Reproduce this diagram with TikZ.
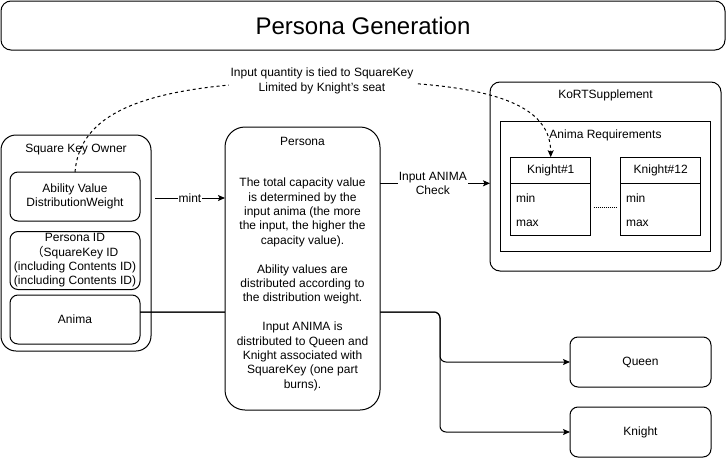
\documentclass[tikz,border=0pt]{standalone}
\usepackage{fontspec}
\setmainfont{Liberation Sans}
\newfontfamily\cjk{Noto Sans CJK SC}
\usetikzlibrary{arrows.meta,calc}
\begin{document}
\begin{tikzpicture}[x=1pt,y=-1pt,
  every node/.style={font=\fontsize{12}{14.4}\selectfont, inner sep=0pt, outer sep=0pt},
  box/.style={draw, line width=1pt, rounded corners=#1, fill=white},
  box/.default=8pt,
  sqbox/.style={draw, line width=1pt, fill=white},
  conn/.style={line width=1pt},
  arr/.style={line width=1pt, -{Stealth[length=7pt,width=6pt,inset=1.5pt]}},
  dashedline/.style={line width=1pt, dash pattern=on 3pt off 3pt},
  lbl/.style={fill=white, align=center, inner sep=1pt},
  txt/.style={align=center},
]
\useasboundingbox (0,0) rectangle (726,458);

% title
\node[box=10pt, minimum width=724, minimum height=49] (title) at (363,25.5) {\fontsize{24}{28}\selectfont Persona Generation};

% Square Key Owner
\node[box=15pt, minimum width=150, minimum height=216] (sko) at (76,243) {};
\node (skotitle) at (76,150) {Square Key Owner};
\node[box, minimum width=130, minimum height=49, txt] (ability) at (75,196.5) {Ability Value\\DistributionWeight};
\node[box, minimum width=130, minimum height=58, txt] (pid) at (75,260.5) {Persona ID\\{\cjk （}SquareKey ID\\(including Contents ID)\\(including Contents ID)};
\node[box, minimum width=130, minimum height=49] (anima) at (75,319.5) {Anima};

% Queen / Knight
\node[box, minimum width=141, minimum height=50] (queen) at (640.5,362) {Queen};
\node[box, minimum width=141, minimum height=50] (knight) at (640.5,432) {Knight};

% KoRTSupplement
\node[box=10pt, minimum width=231, minimum height=189] (kort) at (605.5,176.5) {};
\node (korttitle) at (605.5,95) {KoRTSupplement};
\node[sqbox, minimum width=210, minimum height=130] (areq) at (605.5,186.7) {};
\node (areqtitle) at (605.5,135) {Anima Requirements};

% Knight#1
\node[sqbox, minimum width=80, minimum height=78] (k1) at (550.7,196.2) {};
\draw[line width=1pt] (k1.west |- 0,183.3) -- (k1.east |- 0,183.3);
\node (k1h) at (550.7,170.3) {Knight\#1};
\node[anchor=west] (k1min) at (516,197.7) {min};
\node[anchor=west] (k1max) at (516,223) {max};

% Knight#12
\node[sqbox, minimum width=80, minimum height=78] (k12) at (660.7,196.2) {};
\draw[line width=1pt] (k12.west |- 0,183.3) -- (k12.east |- 0,183.3);
\node (k12h) at (660.7,170.3) {Knight\#12};
\node[anchor=west] (k12min) at (626,197.7) {min};
\node[anchor=west] (k12max) at (626,223) {max};

\draw[line width=0.8pt, dash pattern=on 1pt off 1pt] ([xshift=3pt]k1.east |- 0,207.3) -- ([xshift=-4pt]k12.west |- 0,207.3);

% Anima to Queen/Knight (behind Persona)
\coordinate (split) at (440,312);
\coordinate (aout) at ([yshift=7.5pt]anima.east);
\draw[arr, rounded corners=6pt] (aout) -- (aout -| split) |- (queen.west);
\draw[arr, rounded corners=6pt] (aout) -- (aout -| split) |- (knight.west);

% Persona
\node[box=20pt, minimum width=155, minimum height=283] (persona) at (302.5,268.5) {};
\node (ptitle) at (302.5,141) {Persona};
\node[txt] (pbody) at (302.5,284.3) {The total capacity value\\is determined by the\\input anima (the more\\the input, the higher the\\capacity value).\\[14.4pt]Ability values are\\distributed according to\\the distribution weight.\\[14.4pt]Input ANIMA is\\distributed to Queen and\\Knight associated with\\SquareKey (one part\\burns).};

% mint arrow
\coordinate (mstart) at (155,198);
\draw[arr] (mstart) -- (mstart -| persona.west) node[midway, lbl] (mint) {mint};

% Input ANIMA Check
\coordinate (cstart) at (persona.east |- 0,183.3);
\draw[arr] (cstart) -- (cstart -| kort.west) node[pos=0.48, lbl] (chk) {Input ANIMA\\Check};

% dashed curve
\coordinate (dmid) at (322,81);
\draw[dashedline] (ability.north) .. controls (80,110) and (150,82) .. (dmid);
\draw[dashedline, -{Stealth[length=7pt,width=6pt,inset=1.5pt]}] (dmid) .. controls (480,80) and (550.7,100) .. (k1.north);
\node[lbl, inner sep=2pt] (dlabel) at (dmid) {Input quantity is tied to SquareKey\\Limited by Knight's seat};
\end{tikzpicture}
\end{document}
